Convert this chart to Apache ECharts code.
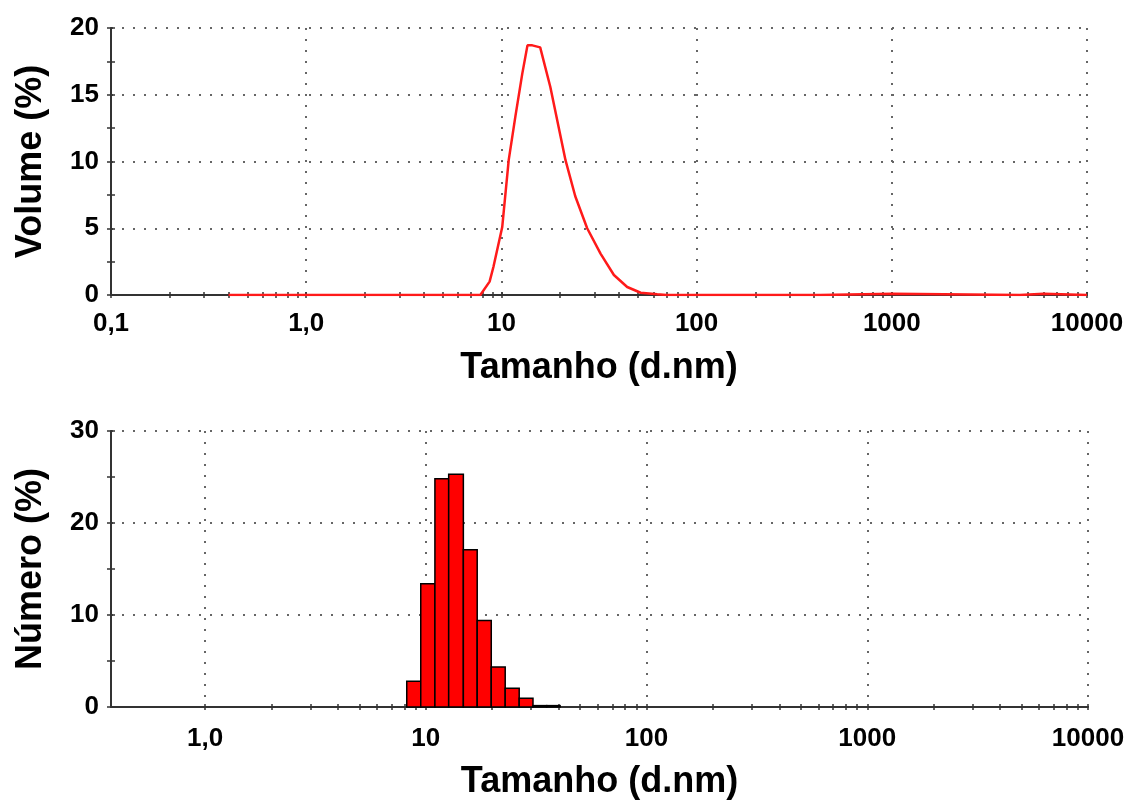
<!DOCTYPE html>
<html><head><meta charset="utf-8">
<script src="https://cdn.jsdelivr.net/npm/echarts@6/dist/echarts.min.js"></script>
<style>html,body{margin:0;padding:0;background:#fff}#c{width:1130px;height:801px}</style>
</head><body><div id="c"></div>
<script>
// ---- Data ----
// Top panel: volume distribution (line)
const volumeSizes  = [0.4, 7.8, 8.7, 9.1, 10.1, 10.9, 11.8, 12.8, 13.6, 14.4, 15.8, 17.8, 21.3, 23.9, 27.5, 32.2, 37.7, 44.1, 51.7, 62.8, 70, 430, 436, 1010, 1020, 4520, 4530, 6000, 6010, 10000];
const volumeValues = [0,   0,   1.0, 2.1, 5.1,  10.1, 13.4, 16.6, 18.7, 18.7, 18.55, 15.6, 10.1, 7.4, 5.0, 3.1, 1.5, 0.6, 0.17, 0.05, 0, 0, 0.1, 0.1, 0, 0, 0.1, 0.1, 0, 0];
// Bottom panel: number distribution (histogram); bins between consecutive edges
const binEdges     = [8.2, 9.49, 11.0, 12.7, 14.8, 17.1, 19.8, 22.9, 26.5, 30.6, 35.3, 40.6];
const numberValues = [2.8, 13.4, 24.8, 25.3, 17.1, 9.4, 4.35, 2.05, 0.94, 0.15, 0.15];
// Tick labels
const topMajorTicks = [0.1, 1, 10, 100, 1000, 10000];
const topMajorLabels = ['0,1', '1,0', '10', '100', '1000', '10000'];
const bottomMajorTicks = [1, 10, 100, 1000, 10000];
const bottomMajorLabels = ['1,0', '10', '100', '1000', '10000'];
const xTitle = 'Tamanho (d.nm)';
const topYTitle = 'Volume (%)';
const bottomYTitle = 'Número (%)';

// ---- Styling helpers ----
const FONT = 'Liberation Sans';
const AXIS_COLOR = '#333';
const gridLine = { show: true, lineStyle: { type: [2, 9], width: 2, color: '#666' } };

function minorList(majors) {
  const out = [];
  for (let i = 0; i < majors.length - 1; i++) {
    for (let k = 1; k <= 9; k++) out.push(majors[i] * k);
  }
  out.push(majors[majors.length - 1]);
  return out;
}
function labelFor(majors, labels) {
  return function (v) {
    for (let i = 0; i < majors.length; i++) {
      if (Math.abs(Math.log10(v) - Math.log10(majors[i])) < 1e-6) return labels[i];
    }
    return '';
  };
}
function mainX(gridIndex, min, majors, labels, nameGap, margin) {
  return {
    type: 'log', logBase: 10, gridIndex, min, max: 10000, position: 'bottom',
    axisLine: { show: true, onZero: false, lineStyle: { color: AXIS_COLOR, width: 2 } },
    axisTick: { show: false },
    splitLine: gridLine,
    axisLabel: { show: true, formatter: labelFor(majors, labels), margin, hideOverlap: false,
      fontFamily: FONT, fontWeight: 'bold', fontSize: 26, color: '#000' },
    name: xTitle, nameLocation: 'middle', nameGap,
    nameTextStyle: { fontFamily: FONT, fontWeight: 'bold', fontSize: 36, color: '#000' }
  };
}
function tickX(gridIndex, min, values, inside) {
  return {
    type: 'log', logBase: 10, gridIndex, min, max: 10000, position: 'bottom',
    axisLine: { show: false, onZero: false },
    axisTick: { show: true, inside, length: 3, customValues: values, lineStyle: { color: AXIS_COLOR, width: 1.5 } },
    splitLine: { show: false },
    axisLabel: { show: false }
  };
}
function mainY(gridIndex, max, interval, name, nameGap) {
  return {
    type: 'value', gridIndex, min: 0, max, interval, position: 'left',
    axisLine: { show: true, lineStyle: { color: AXIS_COLOR, width: 2 } },
    axisTick: { show: true, length: 4, lineStyle: { color: AXIS_COLOR, width: 1.5 } },
    minorTick: { show: true, splitNumber: 2, length: 4, lineStyle: { color: AXIS_COLOR, width: 1.5 } },
    splitLine: gridLine,
    axisLabel: { margin: 12, fontFamily: FONT, fontWeight: 'bold', fontSize: 26, color: '#000' },
    name, nameLocation: 'middle', nameGap, nameRotate: 90,
    nameTextStyle: { fontFamily: FONT, fontWeight: 'bold', fontSize: 36, color: '#000' }
  };
}
function tickY(gridIndex, max, interval) {
  return {
    type: 'value', gridIndex, min: 0, max, interval, position: 'left',
    axisLine: { show: false },
    axisTick: { show: true, inside: true, length: 4, lineStyle: { color: AXIS_COLOR, width: 1.5 } },
    minorTick: { show: true, splitNumber: 2, length: 4, lineStyle: { color: AXIS_COLOR, width: 1.5 } },
    splitLine: { show: false },
    axisLabel: { show: false }
  };
}

const topTicks = minorList(topMajorTicks);
const bottomTicks = minorList(bottomMajorTicks);
const bottomMin = 0.375;

const option = {
  backgroundColor: '#fff',
  animation: false,
  grid: [
    { left: 111, top: 28, width: 976, height: 267 },
    { left: 111, top: 431, width: 977, height: 278 }
  ],
  xAxis: [
    mainX(0, 0.1, topMajorTicks, topMajorLabels, 55, 16),
    tickX(0, 0.1, topTicks, true),
    tickX(0, 0.1, topTicks, false),
    mainX(1, bottomMin, bottomMajorTicks, bottomMajorLabels, 57, 19),
    tickX(1, bottomMin, bottomTicks, true),
    tickX(1, bottomMin, bottomTicks, false)
  ],
  yAxis: [
    mainY(0, 20, 5, topYTitle, 62),
    tickY(0, 20, 5),
    mainY(1, 30, 10, bottomYTitle, 62),
    tickY(1, 30, 10)
  ],
  series: [
    {
      type: 'line', xAxisIndex: 0, yAxisIndex: 0,
      data: volumeSizes.map((s, i) => [s, volumeValues[i]]),
      showSymbol: false, symbol: 'none', smooth: false,
      lineStyle: { color: '#ff1a1a', width: 2.5 }, z: 5
    },
    {
      type: 'custom', xAxisIndex: 3, yAxisIndex: 2,
      data: numberValues.map((v, i) => [binEdges[i], binEdges[i + 1], v]),
      encode: { x: [0, 1], y: 2 },
      renderItem: function (params, api) {
        const p0 = api.coord([api.value(0), 0]);
        const p1 = api.coord([api.value(1), api.value(2)]);
        return {
          type: 'rect',
          shape: { x: p0[0], y: p1[1], width: p1[0] - p0[0], height: p0[1] - p1[1] },
          style: { fill: '#ff0000', stroke: '#000', lineWidth: 1.5 }
        };
      },
      z: 5
    }
  ]
};
const chart = echarts.init(document.getElementById('c'), null, { renderer: 'canvas' });
chart.setOption(option);
</script>
</body></html>
